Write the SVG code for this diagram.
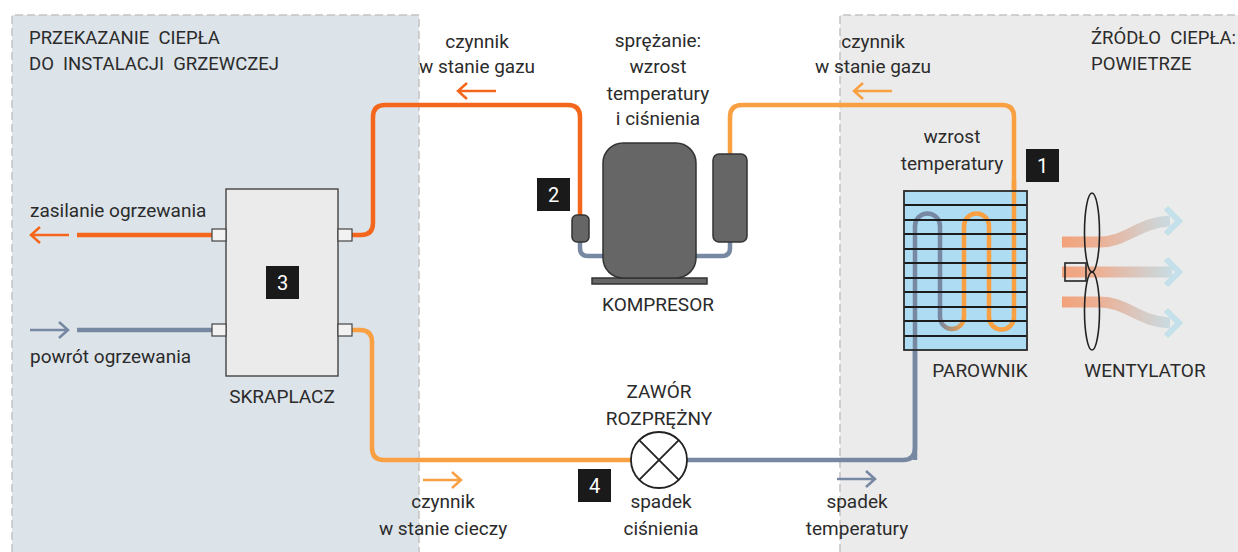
<svg xmlns="http://www.w3.org/2000/svg" width="1238" height="552" viewBox="0 0 1238 552">
  <defs>
    <style>
      text { font-family: Roboto, "Liberation Sans", sans-serif; font-size: 19px; fill: #2b2b2b; }
      .mid { text-anchor: middle; }
      .title { font-size: 18.5px; }
      .badge rect { fill: #1a1a1a; }
      .badge text { fill: #ffffff; font-size: 20px; text-anchor: middle; }
      .pipe { fill: none; stroke-width: 4.5; stroke-linecap: butt; }
      .hot { stroke: #f3661c; }
      .warm { stroke: #f9a042; }
      .cold { stroke: #7788a2; }
      .arrow { fill: none; stroke-width: 2.5; stroke-linecap: butt; stroke-linejoin: miter; }
      .frame { stroke: #c4c4c4; stroke-width: 1.5; stroke-dasharray: 8 4; fill: none; }
      .dark { fill: #666666; stroke: #333333; stroke-width: 1.5; }
      .port { fill: #f2f2f2; stroke: #444444; stroke-width: 1.2; }
      .fin { stroke: #1c1c1c; stroke-width: 2; }
      .flow { fill: none; stroke: url(#airGrad); stroke-width: 11; }
      .chev { fill: none; stroke: #c4e0ea; stroke-width: 6; stroke-linejoin: miter; }
      .blade { fill: none; stroke: #222222; stroke-width: 1.6; }
    </style>
    <linearGradient id="coilGrad" x1="940" y1="0" x2="964" y2="0" gradientUnits="userSpaceOnUse">
      <stop offset="0" stop-color="#7788a2"/>
      <stop offset="1" stop-color="#f9a042"/>
    </linearGradient>
    <linearGradient id="airGrad" x1="1062" y1="0" x2="1178" y2="0" gradientUnits="userSpaceOnUse">
      <stop offset="0" stop-color="#f2a27a"/>
      <stop offset="0.35" stop-color="#ebb299"/>
      <stop offset="1" stop-color="#c4e0ea"/>
    </linearGradient>
  </defs>

  <!-- background zones -->
  <rect x="0" y="0" width="1238" height="552" fill="#ffffff"/>
  <rect x="12" y="15" width="407" height="540" fill="#dce3e9"/>
  <rect x="840" y="15" width="400" height="540" fill="#ebebeb"/>
  <path class="frame" d="M12,552 V15 H419 V552"/>
  <path class="frame" d="M840,552 V15 H1240"/>

  <!-- zone titles -->
  <g id="zone-titles">
    <text class="title" x="29" y="44" xml:space="preserve">PRZEKAZANIE  CIEPŁA</text>
    <text class="title" x="29" y="70" xml:space="preserve">DO  INSTALACJI  GRZEWCZEJ</text>
    <text class="title" x="1091" y="44" xml:space="preserve">ŹRÓDŁO  CIEPŁA:</text>
    <text class="title" x="1091" y="70">POWIETRZE</text>
  </g>

  <!-- refrigerant and water lines -->
  <g id="connectors">
    <path class="pipe hot" d="M580,215 V117 Q580,105 568,105 H385 Q373,105 373,117 V223 Q373,235 361,235 H352"/>
    <path class="pipe warm" d="M730,154 V117 Q730,105 742,105 H1002 Q1014,105 1014,117 V317 A12.5,12.5 0 0 1 989,317 V226 A12.5,12.5 0 0 0 964,226 V317"/>
    <path class="pipe" stroke="url(#coilGrad)" d="M940,317 A12,12 0 0 0 964,317"/>
    <path class="pipe cold" d="M687,460 H903 Q915,460 915,448 V226 A12.5,12.5 0 0 1 940,226 V317"/>
    <path class="pipe warm" d="M352,330 H360 Q372,330 372,342 V448 Q372,460 384,460 H631"/>
    <path class="pipe cold" d="M580,242 V248 Q580,256 588,256 H603"/>
    <path class="pipe cold" d="M696,256 H722 Q730,256 730,248 V242"/>
    <path class="pipe hot" d="M77,235 H212"/>
    <path class="pipe cold" d="M77,330 H212"/>

    <!-- flow direction arrows -->
    <path class="arrow hot" d="M69,235 H31 M40,227 L31,235 L40,243"/>
    <path class="arrow cold" d="M30,330 H68 M59,322 L68,330 L59,338"/>
    <path class="arrow hot" d="M496,91 H458 M467,83 L458,91 L467,99"/>
    <path class="arrow warm" d="M892,91 H854 M863,83 L854,91 L863,99"/>
    <path class="arrow warm" d="M423,480 H461 M452,472 L461,480 L452,488"/>
    <path class="arrow cold" d="M837,479 H875 M866,471 L875,479 L866,487"/>
  </g>

  <!-- condenser -->
  <g id="condenser">
    <rect x="226" y="189" width="112" height="187" fill="#ebebeb" stroke="#444444" stroke-width="1.4"/>
    <rect class="port" x="212" y="229" width="14" height="12"/>
    <rect class="port" x="212" y="324" width="14" height="12"/>
    <rect class="port" x="338" y="229" width="14" height="12"/>
    <rect class="port" x="338" y="324" width="14" height="12"/>
    <g class="badge"><rect x="266" y="266" width="33" height="33"/><text x="282.5" y="290">3</text></g>
    <text class="mid" x="282" y="403">SKRAPLACZ</text>
    <text x="30" y="217">zasilanie ogrzewania</text>
    <text x="30" y="363">powrót ogrzewania</text>
  </g>

  <!-- compressor -->
  <g id="compressor">
    <rect class="dark" x="592" y="278" width="115" height="6"/>
    <rect class="dark" x="603" y="143" width="93" height="135" rx="20"/>
    <rect class="dark" x="572" y="215" width="17" height="27" rx="5"/>
    <rect class="dark" x="713" y="154" width="34" height="88" rx="6"/>
    <g class="badge"><rect x="537" y="178" width="33" height="33"/><text x="553.5" y="202">2</text></g>
    <text class="mid" x="658" y="311">KOMPRESOR</text>
    <text class="mid" x="658" y="47">sprężanie:</text>
    <text class="mid" x="658" y="73">wzrost</text>
    <text class="mid" x="658" y="100">temperatury</text>
    <text class="mid" x="658" y="125">i ciśnienia</text>
  </g>

  <!-- gas line labels -->
  <g id="gas-labels">
    <text class="mid" x="477" y="48">czynnik</text>
    <text class="mid" x="477" y="73">w stanie gazu</text>
    <text class="mid" x="873" y="48">czynnik</text>
    <text class="mid" x="873" y="73">w stanie gazu</text>
  </g>

  <!-- evaporator: fins drawn over the coil -->
  <g id="evaporator">
    <rect x="904" y="191" width="123" height="159" fill="#aedcf2"/>
    <path class="pipe cold" d="M915,460 V226 A12.5,12.5 0 0 1 940,226 V317"/>
    <path class="pipe" stroke="url(#coilGrad)" d="M940,317 A12,12 0 0 0 964,317"/>
    <path class="pipe warm" d="M964,317 V226 A12.5,12.5 0 0 1 989,226 V317 A12.5,12.5 0 0 0 1014,317 V180"/>
    <g class="fin">
      <line x1="904" y1="205" x2="1027" y2="205"/>
      <line x1="904" y1="220" x2="1027" y2="220"/>
      <line x1="904" y1="234" x2="1027" y2="234"/>
      <line x1="904" y1="249" x2="1027" y2="249"/>
      <line x1="904" y1="263" x2="1027" y2="263"/>
      <line x1="904" y1="278" x2="1027" y2="278"/>
      <line x1="904" y1="292" x2="1027" y2="292"/>
      <line x1="904" y1="307" x2="1027" y2="307"/>
      <line x1="904" y1="321" x2="1027" y2="321"/>
      <line x1="904" y1="336" x2="1027" y2="336"/>
    </g>
    <rect x="904" y="191" width="123" height="159" fill="none" stroke="#2a2a2a" stroke-width="1.8"/>
    <g class="badge"><rect x="1026" y="149" width="33" height="33"/><text x="1042.5" y="173">1</text></g>
    <text class="mid" x="952" y="143">wzrost</text>
    <text class="mid" x="952" y="170">temperatury</text>
    <text class="mid" x="980" y="377">PAROWNIK</text>
  </g>

  <!-- fan with air stream -->
  <g id="fan">
    <path class="flow" d="M1062,242 H1100 C1126,242 1140,222 1170,221"/>
    <path class="flow" d="M1062,272 H1172"/>
    <path class="flow" d="M1062,302 H1100 C1126,302 1140,322 1170,323"/>
    <polyline class="chev" points="1166,208 1179,221 1166,234"/>
    <polyline class="chev" points="1166,259 1179,272 1166,285"/>
    <polyline class="chev" points="1166,310 1179,323 1166,336"/>
    <ellipse class="blade" cx="1092" cy="232.5" rx="7.5" ry="39.5"/>
    <ellipse class="blade" cx="1092" cy="311" rx="7.5" ry="39"/>
    <rect x="1065" y="263" width="21" height="18" fill="none" stroke="#222222" stroke-width="1.6"/>
    <text class="mid" x="1145" y="377">WENTYLATOR</text>
  </g>

  <!-- expansion valve -->
  <g id="valve">
    <circle cx="659" cy="460" r="28" fill="#ffffff" stroke="#222222" stroke-width="1.8"/>
    <path d="M639.2,440.2 L678.8,479.8 M678.8,440.2 L639.2,479.8" stroke="#222222" stroke-width="1.8"/>
    <text class="mid" x="659" y="398">ZAWÓR</text>
    <text class="mid" x="659" y="425">ROZPRĘŻNY</text>
    <g class="badge"><rect x="578" y="469" width="33" height="33"/><text x="594.5" y="493">4</text></g>
    <text class="mid" x="661" y="508">spadek</text>
    <text class="mid" x="661" y="535">ciśnienia</text>
  </g>

  <!-- liquid and cold line labels -->
  <g id="line-labels">
    <text class="mid" x="443" y="508">czynnik</text>
    <text class="mid" x="443" y="535">w stanie cieczy</text>
    <text class="mid" x="857" y="508">spadek</text>
    <text class="mid" x="857" y="535">temperatury</text>
  </g>
</svg>
